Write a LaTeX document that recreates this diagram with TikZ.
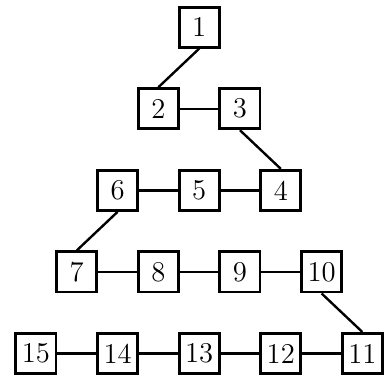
\documentclass[tikz,border=0pt]{standalone}
\usepackage{tikz}
\usetikzlibrary{positioning}
\tikzset{
  cell/.style={
    rectangle,
    draw=black,
    line width=1.2pt,
    minimum size=5.9mm,
    inner sep=0pt,
    font=\fontsize{12}{14}\selectfont
  },
  link/.style={
    line width=1pt,
    draw=black
  }
}
\begin{document}
\begin{tikzpicture}
  \useasboundingbox (-0.529,-0.331) rectangle (5.206,5.199);
  \node[cell] (n1) at (2.4,4.8) {1};
  \node[cell] (n2) at (1.8,3.6) {2};
  \node[cell] (n3) at (3.0,3.6) {3};
  \node[cell] (n6) at (1.2,2.4) {6};
  \node[cell] (n5) at (2.4,2.4) {5};
  \node[cell] (n4) at (3.6,2.4) {4};
  \node[cell] (n7) at (0.6,1.2) {7};
  \node[cell] (n8) at (1.8,1.2) {8};
  \node[cell] (n9) at (3.0,1.2) {9};
  \node[cell] (n10) at (4.2,1.2) {10};
  \node[cell] (n15) at (0,0) {15};
  \node[cell] (n14) at (1.2,0) {14};
  \node[cell] (n13) at (2.4,0) {13};
  \node[cell] (n12) at (3.6,0) {12};
  \node[cell] (n11) at (4.8,0) {11};
  \draw[link] (n1.south) -- (n2.north);
  \draw[link] (n2) -- (n3);
  \draw[link] (n3.south) -- (n4.north);
  \draw[link] (n4) -- (n5);
  \draw[link] (n5) -- (n6);
  \draw[link] (n6.south) -- (n7.north);
  \draw[link] (n7) -- (n8);
  \draw[link] (n8) -- (n9);
  \draw[link] (n9) -- (n10);
  \draw[link] (n10.south) -- (n11.north);
  \draw[link] (n11) -- (n12);
  \draw[link] (n12) -- (n13);
  \draw[link] (n13) -- (n14);
  \draw[link] (n14) -- (n15);
\end{tikzpicture}
\end{document}
